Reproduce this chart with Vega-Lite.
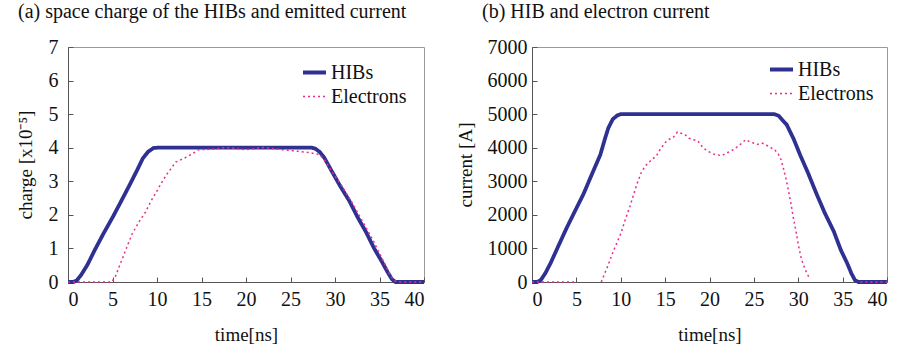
{
  "$schema": "https://vega.github.io/schema/vega-lite/v6.json",
  "background": "white",
  "padding": {"left": 15, "top": 1, "right": 5, "bottom": 2},
  "datasets": {
    "a": [
      {"t": 0, "v": 0, "series": "HIBs", "seg": "h"},
      {"t": 0.6, "v": 0, "series": "HIBs", "seg": "h"},
      {"t": 1.0, "v": 0.05, "series": "HIBs", "seg": "h"},
      {"t": 1.5, "v": 0.22, "series": "HIBs", "seg": "h"},
      {"t": 2.2, "v": 0.52, "series": "HIBs", "seg": "h"},
      {"t": 3.0, "v": 0.95, "series": "HIBs", "seg": "h"},
      {"t": 4.0, "v": 1.45, "series": "HIBs", "seg": "h"},
      {"t": 5.0, "v": 1.92, "series": "HIBs", "seg": "h"},
      {"t": 6.0, "v": 2.42, "series": "HIBs", "seg": "h"},
      {"t": 7.0, "v": 2.93, "series": "HIBs", "seg": "h"},
      {"t": 7.8, "v": 3.35, "series": "HIBs", "seg": "h"},
      {"t": 8.4, "v": 3.68, "series": "HIBs", "seg": "h"},
      {"t": 9.0, "v": 3.88, "series": "HIBs", "seg": "h"},
      {"t": 9.6, "v": 3.99, "series": "HIBs", "seg": "h"},
      {"t": 10, "v": 4, "series": "HIBs", "seg": "h"},
      {"t": 27.4, "v": 4, "series": "HIBs", "seg": "h"},
      {"t": 27.8, "v": 3.97, "series": "HIBs", "seg": "h"},
      {"t": 28.3, "v": 3.87, "series": "HIBs", "seg": "h"},
      {"t": 28.8, "v": 3.7, "series": "HIBs", "seg": "h"},
      {"t": 29.7, "v": 3.27, "series": "HIBs", "seg": "h"},
      {"t": 30.6, "v": 2.85, "series": "HIBs", "seg": "h"},
      {"t": 31.6, "v": 2.42, "series": "HIBs", "seg": "h"},
      {"t": 32.5, "v": 1.95, "series": "HIBs", "seg": "h"},
      {"t": 33.5, "v": 1.48, "series": "HIBs", "seg": "h"},
      {"t": 34.4, "v": 1.0, "series": "HIBs", "seg": "h"},
      {"t": 35.3, "v": 0.59, "series": "HIBs", "seg": "h"},
      {"t": 35.9, "v": 0.3, "series": "HIBs", "seg": "h"},
      {"t": 36.4, "v": 0.08, "series": "HIBs", "seg": "h"},
      {"t": 36.8, "v": 0, "series": "HIBs", "seg": "h"},
      {"t": 40, "v": 0, "series": "HIBs", "seg": "h"},
      {"t": 0, "v": 0, "series": "Electrons", "seg": "e"},
      {"t": 4.9, "v": 0, "series": "Electrons", "seg": "e"},
      {"t": 5.3, "v": 0.15, "series": "Electrons", "seg": "e"},
      {"t": 6.1, "v": 0.69, "series": "Electrons", "seg": "e"},
      {"t": 6.7, "v": 1.1, "series": "Electrons", "seg": "e"},
      {"t": 7.2, "v": 1.43, "series": "Electrons", "seg": "e"},
      {"t": 8.0, "v": 1.8, "series": "Electrons", "seg": "e"},
      {"t": 8.7, "v": 2.08, "series": "Electrons", "seg": "e"},
      {"t": 9.3, "v": 2.4, "series": "Electrons", "seg": "e"},
      {"t": 9.9, "v": 2.67, "series": "Electrons", "seg": "e"},
      {"t": 10.5, "v": 2.95, "series": "Electrons", "seg": "e"},
      {"t": 11.0, "v": 3.17, "series": "Electrons", "seg": "e"},
      {"t": 12.1, "v": 3.57, "series": "Electrons", "seg": "e"},
      {"t": 13.0, "v": 3.68, "series": "Electrons", "seg": "e"},
      {"t": 13.6, "v": 3.76, "series": "Electrons", "seg": "e"},
      {"t": 14.7, "v": 3.94, "series": "Electrons", "seg": "e"},
      {"t": 16.6, "v": 3.96, "series": "Electrons", "seg": "e"},
      {"t": 17.2, "v": 4.0, "series": "Electrons", "seg": "e"},
      {"t": 18.1, "v": 4.0, "series": "Electrons", "seg": "e"},
      {"t": 19.9, "v": 3.94, "series": "Electrons", "seg": "e"},
      {"t": 20.7, "v": 3.96, "series": "Electrons", "seg": "e"},
      {"t": 22.0, "v": 4.01, "series": "Electrons", "seg": "e"},
      {"t": 24.1, "v": 3.94, "series": "Electrons", "seg": "e"},
      {"t": 26.0, "v": 3.89, "series": "Electrons", "seg": "e"},
      {"t": 27.0, "v": 3.86, "series": "Electrons", "seg": "e"},
      {"t": 28.2, "v": 3.8, "series": "Electrons", "seg": "e"},
      {"t": 28.8, "v": 3.65, "series": "Electrons", "seg": "e"},
      {"t": 29.7, "v": 3.27, "series": "Electrons", "seg": "e"},
      {"t": 30.8, "v": 2.85, "series": "Electrons", "seg": "e"},
      {"t": 31.9, "v": 2.37, "series": "Electrons", "seg": "e"},
      {"t": 33.0, "v": 1.85, "series": "Electrons", "seg": "e"},
      {"t": 34.2, "v": 1.28, "series": "Electrons", "seg": "e"},
      {"t": 35.0, "v": 0.85, "series": "Electrons", "seg": "e"},
      {"t": 35.7, "v": 0.49, "series": "Electrons", "seg": "e"},
      {"t": 36.2, "v": 0.2, "series": "Electrons", "seg": "e"},
      {"t": 36.7, "v": 0.04, "series": "Electrons", "seg": "e"},
      {"t": 37.2, "v": 0, "series": "Electrons", "seg": "e"},
      {"t": 40, "v": 0, "series": "Electrons", "seg": "e"}
    ],
    "b": [
      {"t": 0, "v": 0, "series": "HIBs", "seg": "h"},
      {"t": 0.6, "v": 0, "series": "HIBs", "seg": "h"},
      {"t": 1.0, "v": 60, "series": "HIBs", "seg": "h"},
      {"t": 1.5, "v": 260, "series": "HIBs", "seg": "h"},
      {"t": 2.1, "v": 566, "series": "HIBs", "seg": "h"},
      {"t": 3.0, "v": 1090, "series": "HIBs", "seg": "h"},
      {"t": 3.9, "v": 1608, "series": "HIBs", "seg": "h"},
      {"t": 4.8, "v": 2090, "series": "HIBs", "seg": "h"},
      {"t": 5.8, "v": 2620, "series": "HIBs", "seg": "h"},
      {"t": 6.7, "v": 3180, "series": "HIBs", "seg": "h"},
      {"t": 7.7, "v": 3792, "series": "HIBs", "seg": "h"},
      {"t": 8.2, "v": 4250, "series": "HIBs", "seg": "h"},
      {"t": 8.6, "v": 4587, "series": "HIBs", "seg": "h"},
      {"t": 9.1, "v": 4850, "series": "HIBs", "seg": "h"},
      {"t": 9.6, "v": 4960, "series": "HIBs", "seg": "h"},
      {"t": 10, "v": 5000, "series": "HIBs", "seg": "h"},
      {"t": 27.3, "v": 5000, "series": "HIBs", "seg": "h"},
      {"t": 27.8, "v": 4950, "series": "HIBs", "seg": "h"},
      {"t": 28.3, "v": 4800, "series": "HIBs", "seg": "h"},
      {"t": 28.7, "v": 4686, "series": "HIBs", "seg": "h"},
      {"t": 29.5, "v": 4250, "series": "HIBs", "seg": "h"},
      {"t": 30.2, "v": 3792, "series": "HIBs", "seg": "h"},
      {"t": 31.1, "v": 3250, "series": "HIBs", "seg": "h"},
      {"t": 32.1, "v": 2600, "series": "HIBs", "seg": "h"},
      {"t": 33.0, "v": 2050, "series": "HIBs", "seg": "h"},
      {"t": 34.0, "v": 1510, "series": "HIBs", "seg": "h"},
      {"t": 34.8, "v": 950, "series": "HIBs", "seg": "h"},
      {"t": 35.5, "v": 566, "series": "HIBs", "seg": "h"},
      {"t": 36.0, "v": 250, "series": "HIBs", "seg": "h"},
      {"t": 36.4, "v": 50, "series": "HIBs", "seg": "h"},
      {"t": 36.8, "v": 0, "series": "HIBs", "seg": "h"},
      {"t": 40, "v": 0, "series": "HIBs", "seg": "h"},
      {"t": 0, "v": 0, "series": "Electrons", "seg": "e1"},
      {"t": 4.9, "v": 0, "series": "Electrons", "seg": "e1"},
      {"t": 7.8, "v": 0, "series": "Electrons", "seg": "e2"},
      {"t": 8.5, "v": 450, "series": "Electrons", "seg": "e2"},
      {"t": 9.16, "v": 914, "series": "Electrons", "seg": "e2"},
      {"t": 10.03, "v": 1460, "series": "Electrons", "seg": "e2"},
      {"t": 10.5, "v": 1850, "series": "Electrons", "seg": "e2"},
      {"t": 11.04, "v": 2255, "series": "Electrons", "seg": "e2"},
      {"t": 11.8, "v": 2900, "series": "Electrons", "seg": "e2"},
      {"t": 12.3, "v": 3250, "series": "Electrons", "seg": "e2"},
      {"t": 12.73, "v": 3446, "series": "Electrons", "seg": "e2"},
      {"t": 13.48, "v": 3644, "series": "Electrons", "seg": "e2"},
      {"t": 14.0, "v": 3750, "series": "Electrons", "seg": "e2"},
      {"t": 14.42, "v": 3942, "series": "Electrons", "seg": "e2"},
      {"t": 15.0, "v": 4150, "series": "Electrons", "seg": "e2"},
      {"t": 15.36, "v": 4240, "series": "Electrons", "seg": "e2"},
      {"t": 15.9, "v": 4300, "series": "Electrons", "seg": "e2"},
      {"t": 16.38, "v": 4468, "series": "Electrons", "seg": "e2"},
      {"t": 16.8, "v": 4430, "series": "Electrons", "seg": "e2"},
      {"t": 17.24, "v": 4390, "series": "Electrons", "seg": "e2"},
      {"t": 17.7, "v": 4280, "series": "Electrons", "seg": "e2"},
      {"t": 18.18, "v": 4240, "series": "Electrons", "seg": "e2"},
      {"t": 18.7, "v": 4200, "series": "Electrons", "seg": "e2"},
      {"t": 19.3, "v": 3990, "series": "Electrons", "seg": "e2"},
      {"t": 19.8, "v": 3900, "series": "Electrons", "seg": "e2"},
      {"t": 20.43, "v": 3813, "series": "Electrons", "seg": "e2"},
      {"t": 21.0, "v": 3780, "series": "Electrons", "seg": "e2"},
      {"t": 21.37, "v": 3763, "series": "Electrons", "seg": "e2"},
      {"t": 22.0, "v": 3850, "series": "Electrons", "seg": "e2"},
      {"t": 22.68, "v": 3942, "series": "Electrons", "seg": "e2"},
      {"t": 23.4, "v": 4080, "series": "Electrons", "seg": "e2"},
      {"t": 24.08, "v": 4240, "series": "Electrons", "seg": "e2"},
      {"t": 24.5, "v": 4180, "series": "Electrons", "seg": "e2"},
      {"t": 24.94, "v": 4141, "series": "Electrons", "seg": "e2"},
      {"t": 25.4, "v": 4100, "series": "Electrons", "seg": "e2"},
      {"t": 25.88, "v": 4141, "series": "Electrons", "seg": "e2"},
      {"t": 26.4, "v": 4080, "series": "Electrons", "seg": "e2"},
      {"t": 26.82, "v": 4012, "series": "Electrons", "seg": "e2"},
      {"t": 27.3, "v": 3950, "series": "Electrons", "seg": "e2"},
      {"t": 27.75, "v": 3813, "series": "Electrons", "seg": "e2"},
      {"t": 28.05, "v": 3650, "series": "Electrons", "seg": "e2"},
      {"t": 28.32, "v": 3396, "series": "Electrons", "seg": "e2"},
      {"t": 28.6, "v": 3100, "series": "Electrons", "seg": "e2"},
      {"t": 28.88, "v": 2750, "series": "Electrons", "seg": "e2"},
      {"t": 29.2, "v": 2300, "series": "Electrons", "seg": "e2"},
      {"t": 29.45, "v": 1906, "series": "Electrons", "seg": "e2"},
      {"t": 29.75, "v": 1500, "series": "Electrons", "seg": "e2"},
      {"t": 30.01, "v": 1111, "series": "Electrons", "seg": "e2"},
      {"t": 30.25, "v": 800, "series": "Electrons", "seg": "e2"},
      {"t": 30.5, "v": 566, "series": "Electrons", "seg": "e2"},
      {"t": 30.9, "v": 300, "series": "Electrons", "seg": "e2"},
      {"t": 31.32, "v": 90, "series": "Electrons", "seg": "e2"},
      {"t": 37.0, "v": 0, "series": "Electrons", "seg": "e3"},
      {"t": 40, "v": 0, "series": "Electrons", "seg": "e3"}
    ]
  },
  "hconcat": [
    {
      "width": 356,
      "height": 235,
      "title": {"text": "(a) space charge of the HIBs and emitted current", "anchor": "start", "frame": "bounds", "offset": 15, "dx": 2},
      "data": {"name": "a"},
      "mark": {"type": "line", "strokeCap": "butt"},
      "encoding": {
        "x": {"field": "t", "type": "quantitative", "scale": {"domain": [0, 40], "nice": false}, "axis": {"title": "time[ns]", "values": [0, 5, 10, 15, 20, 25, 30, 35, 40]}},
        "y": {"field": "v", "type": "quantitative", "scale": {"domain": [0, 7], "nice": false}, "axis": {"title": "charge [x10⁻⁵]", "values": [0, 1, 2, 3, 4, 5, 6, 7], "format": "d", "labelPadding": 15, "titlePadding": 13}},
        "color": {"field": "series", "type": "nominal", "scale": {"domain": ["HIBs", "Electrons"], "range": ["#2E3192", "#EC2C8C"]}, "legend": {"legendX": 233, "legendY": 12}},
        "strokeDash": {"field": "series", "type": "nominal", "scale": {"domain": ["HIBs", "Electrons"], "range": [[1, 0], [2, 3]]}, "legend": {"legendX": 233, "legendY": 12}},
        "strokeWidth": {"field": "series", "type": "nominal", "scale": {"domain": ["HIBs", "Electrons"], "range": [3.8, 1.5]}, "legend": {"legendX": 233, "legendY": 12}},
        "detail": {"field": "seg"},
        "order": {"field": "t", "type": "quantitative"}
      }
    },
    {
      "width": 355,
      "height": 235,
      "title": {"text": "(b) HIB and electron current", "anchor": "start", "frame": "bounds", "offset": 15, "dx": 26},
      "data": {"name": "b"},
      "mark": {"type": "line", "strokeCap": "butt"},
      "encoding": {
        "x": {"field": "t", "type": "quantitative", "scale": {"domain": [0, 40], "nice": false}, "axis": {"title": "time[ns]", "values": [0, 5, 10, 15, 20, 25, 30, 35, 40]}},
        "y": {"field": "v", "type": "quantitative", "scale": {"domain": [0, 7000], "nice": false}, "axis": {"title": "current [A]", "values": [0, 1000, 2000, 3000, 4000, 5000, 6000, 7000], "format": "d", "labelPadding": 10, "titlePadding": 12}},
        "color": {"field": "series", "type": "nominal", "scale": {"domain": ["HIBs", "Electrons"], "range": ["#2E3192", "#EC2C8C"]}, "legend": {"legendX": 236, "legendY": 9}},
        "strokeDash": {"field": "series", "type": "nominal", "scale": {"domain": ["HIBs", "Electrons"], "range": [[1, 0], [2, 3]]}, "legend": {"legendX": 236, "legendY": 9}},
        "strokeWidth": {"field": "series", "type": "nominal", "scale": {"domain": ["HIBs", "Electrons"], "range": [3.8, 1.5]}, "legend": {"legendX": 236, "legendY": 9}},
        "detail": {"field": "seg"},
        "order": {"field": "t", "type": "quantitative"}
      }
    }
  ],
  "spacing": 22,
  "resolve": {
    "scale": {"color": "independent", "strokeDash": "independent", "strokeWidth": "independent"},
    "legend": {"color": "independent", "strokeDash": "independent", "strokeWidth": "independent"}
  },
  "config": {
    "font": "Liberation Serif",
    "view": {"stroke": "#999999", "strokeWidth": 1},
    "title": {"font": "Liberation Serif", "fontSize": 20, "fontWeight": "normal", "color": "#111111"},
    "axis": {
      "grid": false,
      "domainColor": "#555555",
      "tickColor": "#555555",
      "tickSize": -5,
      "labelFont": "Liberation Serif",
      "labelFontSize": 20,
      "labelColor": "#111111",
      "titleFont": "Liberation Serif",
      "titleFontSize": 19,
      "titleFontWeight": "normal",
      "titleColor": "#111111"
    },
    "axisX": {"labelPadding": 12, "titlePadding": 16},
    "legend": {
      "orient": "none",
      "title": null,
      "symbolType": "stroke",
      "symbolSize": 529,
      "labelFont": "Liberation Serif",
      "labelFontSize": 20,
      "labelColor": "#111111",
      "labelOffset": 3,
      "rowPadding": 1,
      "padding": 0
    }
  }
}
